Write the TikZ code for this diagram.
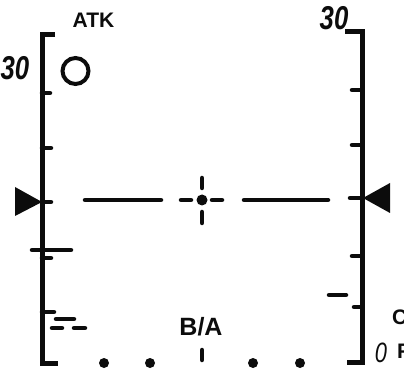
\documentclass[tikz,border=0pt]{standalone}
\usepackage{fontspec}
\setmainfont{Liberation Sans}
\definecolor{cINK}{RGB}{12,12,12}
\definecolor{cPAPER}{RGB}{255,255,255}

\begin{document}
\begin{tikzpicture}[x=1pt,y=-1pt,
  scalebar/.style={cINK,line width=5pt,line join=miter},
  tickmark/.style={cINK,line width=4.5pt,line cap=round},
  pipdot/.style={cINK},
  hudlabel/.style={cINK,inner sep=0pt,font=\fontsize{21}{21}\selectfont\bfseries},
  scalenum/.style={cINK,inner sep=0pt,xscale=0.78,font=\fontsize{33}{33}\selectfont\bfseries\itshape}]
\fill[cPAPER] (0,0) rectangle (404,371);
\useasboundingbox (0,0) rectangle (404,371);
% left scale
\draw[scalebar] (55,35) -- (42,35) -- (42,363) -- (58,363);
\foreach \y/\l in {93/50,148/51,202/51,258/51,312/54}
  \draw[tickmark] (42,\y) -- (\l,\y);
\fill[cINK] (15,187) -- (42,202) -- (15,216) -- cycle;
\draw[tickmark] (32,250) -- (71,250);
\draw[tickmark] (56,319) -- (74,319);
\draw[tickmark] (52,328) -- (62,328);
\draw[tickmark] (74,328) -- (85,328);
% right scale
\draw[scalebar] (345,32) -- (362,32) -- (362,362) -- (347,362);
\foreach \y/\l in {90/352,145/352,198/350,256/352,307/354}
  \draw[tickmark] (362,\y) -- (\l,\y);
\fill[cINK] (390,183) -- (363,198) -- (390,213) -- cycle;
\draw[tickmark] (329,295) -- (346,295);
% horizon line and aim cross
\draw[tickmark] (85,200) -- (161,200);
\draw[tickmark] (244,200) -- (328,200);
\draw[tickmark] (181,200) -- (191,200);
\draw[tickmark] (212,200) -- (222,200);
\draw[tickmark] (202,178) -- (202,188);
\draw[tickmark] (202,212) -- (202,223);
\fill[pipdot] (202,200) circle (5.5);
% bottom row
\foreach \x in {104,150,253,300}
  \fill[pipdot] (\x,363) circle (5);
\draw[tickmark] (202,350) -- (202,360);
\draw[cINK,line width=4pt] (75.5,71) circle (13);
% labels
\node[hudlabel] (atk) at (93.5,20.5) {ATK};
\node[hudlabel,font=\fontsize{25}{25}\selectfont\bfseries] (ba) at (201,327) {B/A};
\node[scalenum] (lthirty) at (15,68) {30};
\node[scalenum] (rthirty) at (334,18) {30};
\node[hudlabel,anchor=west] (cmark) at (392,317.5) {C};
\node[scalenum,font=\fontsize{28}{28}\selectfont\itshape] (zero) at (381,353) {0};
\node[hudlabel,anchor=west] (fmark) at (397,351) {F};
\end{tikzpicture}
\end{document}
